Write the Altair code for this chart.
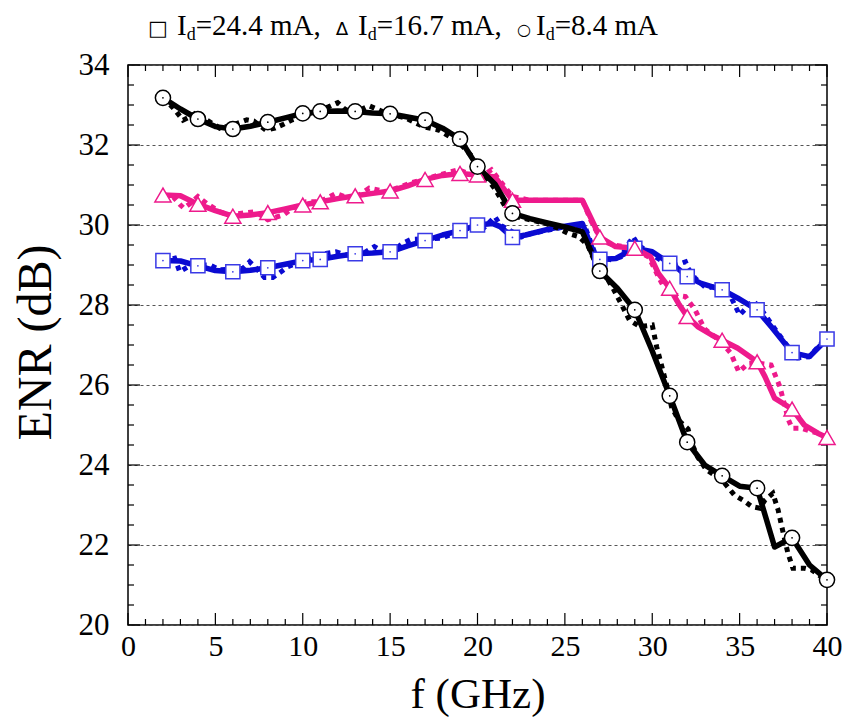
import altair as alt
import pandas as pd

# ---------------- data ----------------
BLACK_SOLID_F = [2, 3, 4, 5, 6, 7, 8, 9, 10, 11, 12, 13, 14, 15, 16, 17, 18, 19, 20, 21,
                 22, 23, 24, 25, 26, 27, 28, 29, 30, 31, 32, 33, 34, 35, 36, 37, 38, 39, 40]
BLACK_SOLID_ENR = [33.18, 32.90, 32.65, 32.46, 32.40, 32.47, 32.57, 32.68, 32.79, 32.84,
                   32.85, 32.84, 32.80, 32.78, 32.70, 32.62, 32.42, 32.15, 31.46, 31.02,
                   30.29, 30.16, 30.05, 29.95, 29.83, 28.85, 28.42, 27.88, 26.85, 25.73,
                   24.57, 24.00, 23.73, 23.47, 23.42, 21.95, 22.18, 21.50, 21.13]

BLACK_DOT_F = [2, 2.6, 3.15, 3.6, 4.0, 4.5, 5.25, 6.0, 6.8, 7.2, 7.9, 8.4, 8.9, 9.4, 10.4,
               11.5, 12.0, 12.4, 12.85, 13.8, 14.6, 15.9, 16.9, 17.8, 18.9, 19.7, 20.3,
               21.0, 21.6, 22.3, 23.1, 23.9, 24.6, 25.2, 25.8, 26.3, 26.7, 27.3, 27.8,
               28.3, 28.7, 29.3, 30.0, 30.25, 30.55, 30.8, 31.1, 31.5, 32.05, 32.3, 32.6,
               33.1, 34.0, 34.7, 35.2, 35.7, 36.15, 36.45, 36.9, 37.2, 37.5, 37.76, 38.05,
               38.7, 39.1, 39.66, 40]
BLACK_DOT_ENR = [33.18, 32.92, 32.62, 32.72, 32.83, 32.63, 32.42, 32.50, 32.63, 32.60,
                 32.37, 32.42, 32.52, 32.63, 32.79, 32.96, 33.06, 32.90, 32.79, 32.98,
                 32.83, 32.67, 32.46, 32.37, 32.08, 31.71, 31.30, 30.90, 30.45, 30.20,
                 30.12, 30.04, 29.92, 29.79, 29.71, 29.50, 29.10, 28.75, 28.38, 27.96,
                 27.62, 27.46, 27.50, 26.96, 26.46, 26.04, 25.46, 25.12, 24.90, 24.50,
                 24.20, 23.88, 23.62, 23.25, 23.12, 22.96, 22.92, 23.12, 23.29, 22.88,
                 22.29, 21.80, 21.42, 21.42, 21.38, 21.21, 21.10]

PINK_SOLID_F = [2, 3, 4, 5, 6, 7, 8, 9, 10, 11, 12, 13, 14, 15, 16, 17, 18, 19, 20, 21,
                22, 23, 24, 25, 26, 26.55, 27, 27.9, 29, 29.9, 30.35, 31, 31.5, 32, 32.6,
                33.4, 34, 34.9, 36, 36.45, 37, 38, 38.7, 39.5, 40]
PINK_SOLID_ENR = [30.75, 30.73, 30.52, 30.36, 30.22, 30.25, 30.31, 30.40, 30.50, 30.58,
                  30.66, 30.73, 30.79, 30.85, 30.98, 31.14, 31.24, 31.29, 31.25, 31.20,
                  30.62, 30.62, 30.62, 30.62, 30.62, 30.12, 29.70, 29.46, 29.42, 29.21,
                  28.79, 28.42, 28.04, 27.71, 27.46, 27.25, 27.12, 26.92, 26.58, 26.21,
                  25.67, 25.40, 25.00, 24.79, 24.69]

PINK_DOT_F = [2, 2.6, 3.0, 3.2, 3.6, 4.0, 4.5, 5.25, 5.8, 6.8, 7.3, 8.0, 8.5, 8.9, 9.4,
              10.2, 10.95, 11.9, 12.85, 13.8, 14.8, 16.1, 17.8, 18.9, 19.7, 20.1, 20.8,
              21.4, 22.0, 23, 26, 26.5, 27.1, 27.8, 28.5, 29.2, 29.8, 30.35, 30.65, 31.3,
              31.9, 32.45, 33.0, 33.6, 34.0, 34.5, 34.95, 35.5, 36.0, 36.8, 37.3, 37.8,
              38.0, 38.5, 39.5, 40]
PINK_DOT_ENR = [30.75, 30.70, 30.50, 30.42, 30.55, 30.71, 30.54, 30.33, 30.25, 30.31,
                30.33, 30.13, 30.20, 30.25, 30.42, 30.58, 30.58, 30.79, 30.63, 30.92,
                30.83, 31.04, 31.25, 31.38, 31.25, 31.17, 31.38, 31.04, 30.71, 30.62,
                30.62, 30.10, 29.60, 29.50, 29.45, 29.35, 29.20, 28.71, 28.46, 28.25,
                28.21, 27.88, 27.40, 27.20, 27.05, 26.79, 26.33, 26.54, 26.55, 26.50,
                25.96, 25.12, 24.92, 24.92, 24.79, 24.69]

BLUE_SOLID_F = [2, 3, 4, 5, 6, 7, 8, 9, 10, 11, 12, 13, 14, 15, 16, 17, 18, 19, 20, 20.85,
                21.3, 22, 22.75, 24.3, 26, 26.7, 27, 27.9, 29, 30, 31, 31.5, 32, 32.8, 34,
                34.9, 36, 36.8, 38, 39, 40]
BLUE_SOLID_ENR = [29.11, 29.10, 28.98, 28.86, 28.83, 28.87, 28.93, 29.02, 29.11, 29.14,
                  29.22, 29.28, 29.30, 29.33, 29.48, 29.61, 29.75, 29.86, 30.00, 30.04,
                  29.96, 29.69, 29.75, 29.92, 30.04, 29.25, 29.14, 29.16, 29.42, 29.33,
                  29.04, 28.90, 28.71, 28.54, 28.38, 28.17, 27.88, 27.46, 26.81, 26.71,
                  27.15]

BLUE_DOT_F = [2, 2.67, 2.96, 3.44, 4.0, 4.68, 5.25, 6.58, 6.96, 7.34, 7.81, 8.29, 8.76,
              9.15, 10.19, 11.33, 11.9, 12.85, 13.6, 14.1, 14.95, 15.7, 16.2, 17.9, 19.5,
              19.7, 20.3, 21.0, 21.3, 22.5, 23.1, 24.6, 25.5, 26.2, 26.8, 27.7, 28.2,
              28.9, 29.2, 30.0, 31.1, 31.9, 32.05, 32.45, 33.1, 34.0, 34.5, 35.0, 35.76,
              36.15, 36.7, 37.2, 37.76, 38.15, 39.0, 39.66, 40]
BLUE_DOT_ENR = [29.11, 29.17, 28.83, 28.96, 29.00, 29.00, 28.88, 28.92, 29.08, 28.92,
                28.69, 28.69, 28.83, 28.96, 29.13, 29.29, 29.33, 29.21, 29.33, 29.46,
                29.25, 29.54, 29.64, 29.67, 29.92, 30.00, 29.90, 30.21, 30.00, 29.70,
                29.79, 29.92, 30.00, 29.90, 29.20, 29.13, 29.20, 29.71, 29.50, 29.25,
                28.96, 29.08, 28.92, 28.67, 28.42, 28.50, 28.20, 27.75, 28.10, 27.95,
                27.60, 27.29, 26.96, 26.67, 26.71, 27.04, 27.15]

MARKER_F = [2, 4, 6, 8, 10, 11, 13, 15, 17, 19, 20, 22, 27, 29, 31, 32, 34, 36, 38, 40]

X_LABELS = [0, 5, 10, 15, 20, 25, 30, 35, 40]
Y_LABELS = [20, 22, 24, 26, 28, 30, 32, 34]

SYMBOLS = ["□", "∆", "○"]
CURRENTS = ["24.4", "16.7", "8.4"]

BLACK = "#000000"
PINK = "#ee1a8c"
BLUE = "#0a0ad2"
SQUARE_EDGE = "#3a3ae6"

W, H = 699, 560
FONT = "Liberation Serif"


def frame(f, e):
    return pd.DataFrame({"f": f, "enr": e})


xs = alt.Scale(domain=[0, 40], nice=False, zero=False)
ys = alt.Scale(domain=[20, 34], nice=False, zero=False)

x_axis = alt.Axis(values=X_LABELS, title="f (GHz)", labelFont=FONT, labelFontSize=30,
                  labelColor="black", titleFont=FONT, titleFontSize=43,
                  titleFontWeight="normal", titleColor="black", ticks=False,
                  domain=False, grid=False, labelPadding=6, labelFlush=False,
                  titleX=W / 2, titleY=69, titleBaseline="middle")
y_axis = alt.Axis(values=Y_LABELS, title="ENR (dB)", labelFont=FONT, labelFontSize=31,
                  labelColor="black", titleFont=FONT, titleFontSize=48,
                  titleFontWeight="normal", titleColor="black", ticks=False,
                  domain=False, grid=True, gridDash=[3, 3], gridColor="#555555",
                  gridWidth=1, labelPadding=19, titleX=-92, titleY=H / 2 - 3,
                  titleBaseline="middle", titleAngle=270)

X = alt.X("f:Q", scale=xs, axis=x_axis)
Y = alt.Y("enr:Q", scale=ys, axis=y_axis)


def line(f, e, color, dotted):
    if dotted:
        m = alt.Chart(frame(f, e)).mark_line(color=color, strokeWidth=5,
                                              strokeDash=[5, 5], strokeCap="butt")
    else:
        m = alt.Chart(frame(f, e)).mark_line(color=color, strokeWidth=5.5,
                                              strokeJoin="round")
    return m.encode(x=X, y=Y)


def markers(f, e, shape, size, edge, dot):
    d = frame(f, e)
    d = d[d["f"].isin(MARKER_F)]
    pts = alt.Chart(d).mark_point(shape=shape, size=size, filled=True, fill="white",
                                  stroke=edge, strokeWidth=1.5, opacity=1).encode(x=X, y=Y)
    layers = [pts]
    if dot:
        layers.append(alt.Chart(d).mark_point(shape="circle", size=3, filled=True,
                                              color=edge, opacity=1).encode(x=X, y=Y))
    return layers


# inward ticks (axis furniture)
xt_major = pd.DataFrame({"f": [v for v in range(0, 41) if v % 5 == 0]})
xt_minor = pd.DataFrame({"f": [v for v in range(0, 41) if v % 5 != 0]})
yt_major = pd.DataFrame({"enr": [20 + 2 * i for i in range(8)]})
yt_minor = pd.DataFrame({"enr": [20 + 0.5 * i for i in range(29) if i % 4 != 0]})

tick_layers = []
for dfx, ln in [(xt_major, 12), (xt_minor, 6)]:
    tick_layers.append(alt.Chart(dfx).mark_rule(color="black", strokeWidth=1.2).encode(
        x=X, y=alt.value(H), y2=alt.value(H - ln)))
    tick_layers.append(alt.Chart(dfx).mark_rule(color="black", strokeWidth=1.2).encode(
        x=X, y=alt.value(0), y2=alt.value(ln)))
for dfy, ln in [(yt_major, 12), (yt_minor, 6)]:
    tick_layers.append(alt.Chart(dfy).mark_rule(color="black", strokeWidth=1.2).encode(
        y=Y, x=alt.value(0), x2=alt.value(ln)))
    tick_layers.append(alt.Chart(dfy).mark_rule(color="black", strokeWidth=1.2).encode(
        y=Y, x=alt.value(W), x2=alt.value(W - ln)))

# title built from text pieces (subscript d)
TW = {' ': 0.25, 'I': 0.333, 'd': 0.5, '=': 0.564, '.': 0.25, 'm': 0.778, 'A': 0.722,
      ',': 0.25}
for c in "0123456789":
    TW[c] = 0.5


def tw(s, size):
    return sum(TW[c] for c in s) * size


F, SUB = 29, 18
BASE = -30
SYM_SIZE = {"□": 21, "∆": 18, "○": 16}
SYM_ADV = {"□": 29, "∆": 22, "○": 19}
title_layers = []
xpos = 148 - 128
for i, (sym, cur) in enumerate(zip(SYMBOLS, CURRENTS)):
    title_layers.append(alt.Chart().mark_text(text=sym, font="DejaVu Sans",
                                              fontSize=SYM_SIZE[sym], align="left",
                                              baseline="alphabetic", color="black")
                        .encode(x=alt.value(xpos), y=alt.value(BASE)))
    xpos += SYM_ADV[sym]
    title_layers.append(alt.Chart().mark_text(text="I", font=FONT, fontSize=F,
                                              align="left", baseline="alphabetic",
                                              color="black")
                        .encode(x=alt.value(xpos), y=alt.value(BASE)))
    xpos += tw("I", F)
    title_layers.append(alt.Chart().mark_text(text="d", font=FONT, fontSize=SUB,
                                              align="left", baseline="alphabetic",
                                              color="black")
                        .encode(x=alt.value(xpos), y=alt.value(BASE + 5)))
    xpos += tw("d", SUB)
    s = "=" + cur + " mA" + ("," if i < len(SYMBOLS) - 1 else "")
    title_layers.append(alt.Chart().mark_text(text=s, font=FONT, fontSize=F,
                                              align="left", baseline="alphabetic",
                                              color="black")
                        .encode(x=alt.value(xpos), y=alt.value(BASE)))
    xpos += tw(s, F) + tw(" ", F) + 8

layers = (
    tick_layers
    + [line(BLUE_DOT_F, BLUE_DOT_ENR, BLUE, True),
       line(BLUE_SOLID_F, BLUE_SOLID_ENR, BLUE, False),
       line(PINK_DOT_F, PINK_DOT_ENR, PINK, True),
       line(PINK_SOLID_F, PINK_SOLID_ENR, PINK, False),
       line(BLACK_DOT_F, BLACK_DOT_ENR, BLACK, True),
       line(BLACK_SOLID_F, BLACK_SOLID_ENR, BLACK, False)]
    + markers(BLUE_SOLID_F, BLUE_SOLID_ENR, "square", 200, SQUARE_EDGE, True)
    + markers(PINK_SOLID_F, PINK_SOLID_ENR, "triangle-up", 260, PINK, False)
    + markers(BLACK_SOLID_F, BLACK_SOLID_ENR, "circle", 230, BLACK, True)
    + title_layers
)

chart = alt.layer(*layers).properties(
    width=W, height=H,
    autosize=alt.AutoSizeParams(type="none"),
    padding={"left": 120, "top": 57, "right": 15, "bottom": 92},
    background="white",
).configure_view(stroke="black", strokeWidth=1.5)

chart.save("out.html", embed_options={"renderer": "svg", "actions": False})
